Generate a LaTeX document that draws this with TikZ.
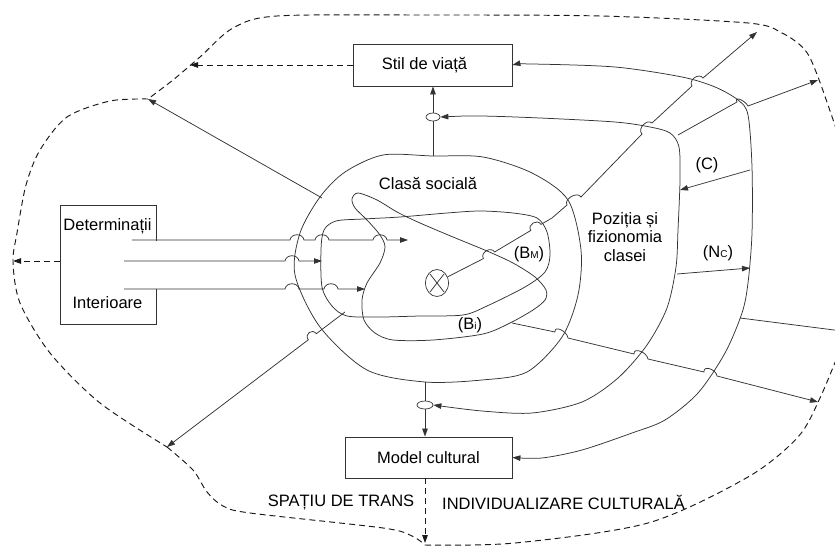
\documentclass[tikz,border=0pt]{standalone}
\usepackage{fontspec}
\setmainfont{Liberation Sans}
\usetikzlibrary{arrows.meta,shapes.geometric}
\begin{document}
\begin{tikzpicture}[x=1pt,y=-1pt,
  ln/.style={line width=0.75pt,draw=black!80},
  arr/.style={-{Triangle[length=8pt,width=5.5pt]}},
  barr/.style={{Triangle[length=8pt,width=5.5pt]}-{Triangle[length=8pt,width=5.5pt]}},
  dsh/.style={line width=0.95pt,draw=black!90,dash pattern=on 6pt off 4pt},
  box/.style={draw=black!80,line width=0.8pt,rectangle,inner sep=0pt},
  txt/.style={font=\fontsize{16.5}{18.5}\selectfont,inner sep=0pt},
  ell/.style={draw=black!80,line width=0.7pt,ellipse,inner sep=0pt,fill=white}]
\useasboundingbox (0,0) rectangle (835,548);

% ---------- outer dashed boundary ----------
\draw[dsh] plot[smooth] coordinates {(840,140) (818,77) (805,50) (782,33) (748,23) (600,16) (420,15) (277,16) (233,28) (200,57) (173,80) (148,99)};
\draw[dsh] plot[smooth] coordinates {(148,99) (110,101) (67,117) (40,150) (26,185) (17,233) (13,262) (20,303) (50,353) (100,403) (167,447)};
\draw[dsh] plot[smooth] coordinates {(167,447) (193,470) (207,492) (223,506) (250,513) (383,528) (412,536) (425,545)};
\draw[dsh] plot[smooth] coordinates {(425,545) (515,543) (648,523) (748,477) (798,437) (820,398) (842,345)};

% ---------- boxes ----------
\node[box,minimum width=159pt,minimum height=42pt] (stil) at (432.5,65) {};
\node[txt] (stilt) at (424.5,65) {Stil de viață};
\node[box,minimum width=167pt,minimum height=41pt] (model) at (428.5,457.5) {};
\node[txt] (modelt) at (428.5,457.5) {Model cultural};
\draw[ln,line width=0.8pt] (156,241) -- (156,205) -- (60,205) -- (60,324) -- (156,324) -- (156,289);
\node[txt] (det1) at (107.5,226) {Determinații};
\node[txt] (det2) at (107.5,303) {Interioare};
\coordinate (detw) at (60,261);

% ---------- small ellipses ----------
\node[ell,minimum width=14pt,minimum height=8pt] (e1) at (433,117) {};
\node[ell,minimum width=16pt,minimum height=8pt] (e2) at (425,405) {};
\node[ell,minimum width=23pt,minimum height=27pt,fill=none] (xc) at (437,283) {};
\draw[ln] (430,274) -- (444,292) (444,274) -- (430,292);

% ---------- dashed arrows to the boundary ----------
\coordinate (bl1) at (190,65);
\coordinate (bl2) at (13,261);
\coordinate (bl3) at (425,543);
\draw[dsh,arr] (stil.west) -- (bl1);
\draw[dsh,arr] (detw) -- (bl2);
\draw[dsh,arr] (model.south -| e2) -- (bl3);

% ---------- Clasa sociala (closed) ----------
\draw[ln] plot[smooth cycle] coordinates {(433,156) (483,157) (532,173) (568,200) (581,250) (578,295) (562,337) (527,372) (482,380) (425,382) (367,370) (320,327) (295,275) (300,233) (320,197) (345,172) (383,155)};
\coordinate (ctop) at (433,156);
\coordinate (cbot) at (425,382);

% ---------- inner shape (a) ----------
\draw[ln] plot[smooth cycle] coordinates {(321,250) (324,230) (336,221) (363,219) (400,217) (447,213) (480,211) (513,213) (537,218) (547,232) (550,255) (545,272) (525,287) (487,306) (463,315) (420,316) (380,317) (347,316) (332,306) (322,287)};

% ---------- inner loop (b) ----------
\draw[ln] plot[smooth cycle] coordinates {(358,193) (377,200) (397,212) (420,223) (453,237) (487,251) (513,263) (535,277) (546,290) (545,300) (533,310) (510,323) (483,334) (433,340) (393,340) (375,333) (364,320) (362,300) (367,283) (380,263) (385,247) (380,235) (367,220) (355,208) (352,199)};

% ---------- middle C ----------
\draw[ln,barr] plot[smooth] coordinates {(e1.east) (480,116) (540,118) (615,122) (650,127) (670,133) (679,147) (680,180) (678,230) (676,267) (667,308) (647,345) (618,378) (582,402) (532,413) (482,411) (e2.east)};

% ---------- outer C ----------
\draw[ln,barr] plot[smooth] coordinates {(stil.east) (532,64) (615,67) (682,77) (715,87) (738,100) (748,115) (752,167) (752,233) (748,283) (742,313) (725,353) (698,393) (665,420) (632,433) (582,450) (542,458) (model.east)};

% ---------- vertical connectors ----------
\draw[ln] (ctop) -- (e1.south);
\draw[ln,arr] (e1.north) -- (stil.south -| e1);
\draw[ln] (cbot) -- (e2.north);
\draw[ln,arr] (e2.south) -- (model.north -| e2);

% ---------- horizontal arrows from the box ----------
\coordinate (h1) at (132,240);
\coordinate (h2) at (124,261);
\coordinate (h3) at (124,289);
\draw[ln,arr] (h1) -- (290,240) .. controls (291,233) and (303,233) .. (304,240) -- (315,240) .. controls (316,233) and (328,233) .. (329,240) -- (373,240) .. controls (374,233) and (386,233) .. (387,240) -- (408,240);
\draw[ln,arr] (h2) -- (285,261) .. controls (286,254) and (298,254) .. (299,261) -- (322,261);
\draw[ln,arr] (h3) -- (285,289) .. controls (286,282) and (298,282) .. (299,289) -- (324,289) .. controls (325,282) and (337,282) .. (338,289) -- (365,289);

% ---------- arrows to the left boundary ----------
\coordinate (ul) at (322,198);
\coordinate (ulend) at (148,99);
\draw[ln,arr] (ul) -- (ulend);
\coordinate (dl) at (345,312);
\coordinate (dlend) at (167,447);
\draw[ln,arr] (dl) -- (316.3,333.7) .. controls +(-4.2,-5.6) and +(-4.2,-5.6) .. (308.3,339.8) -- (dlend);

% ---------- line from the X ----------
\coordinate (xend) at (757,32);
\draw[ln,arr] (xc.30) -- (483.4,258.6) .. controls +(-3.6,-6) and +(-3.6,-6) .. (494.6,252.0) -- (530.7,230.5) .. controls +(-3.6,-6) and +(-3.6,-6) .. (541,224.4) -- (552,218) -- (567,205) .. controls +(-3.5,-6) and +(-3.5,-6) .. (581,197) -- (642,134) .. controls +(-5.2,-4.7) and +(-5.2,-4.7) .. (652,123) -- (692,86) .. controls +(-4.1,-5.7) and +(-4.1,-5.7) .. (703,78) -- (xend);

% ---------- right side arrows ----------
\coordinate (tr0) at (678,135);
\coordinate (tr1) at (818,80);
\draw[ln,arr] (tr0) -- (737,102) .. controls +(-3.4,-6.1) and +(-3.4,-6.1) .. (748,106) -- (tr1);
\coordinate (c0) at (750,170);
\coordinate (c1) at (680,190);
\draw[ln,arr] (c0) -- (c1);
\coordinate (n0) at (677,274);
\coordinate (n1) at (750,268);
\draw[ln,arr] (n0) -- (n1);
\coordinate (r0) at (740,318);
\coordinate (r1) at (842,331);
\draw[ln] (r0) -- (r1);
\coordinate (bi0) at (512,323);
\coordinate (bi1) at (818,402);
\draw[ln,arr] (bi0) -- (555,332) .. controls +(-1,-7) and +(-1,-7) .. (568,338) -- (634,354) .. controls +(-1,-7) and +(-1,-7) .. (648,359) -- (704,372) .. controls +(-1,-7) and +(-1,-7) .. (717,376) -- (bi1);

% ---------- labels ----------
\node[txt] (cl) at (428,183) {Clasă socială};
\node[txt,align=center] (poz) at (625,237) {Poziția și\\fizionomia\\clasei};
\node[txt] (lc) at (707,165) {(C)};
\node[txt] (lnc) at (718,253) {(N{\fontsize{10}{12}\selectfont C})};
\node[txt] (lbm) at (529,254) {(B{\fontsize{10}{12}\selectfont M})};
\node[txt] (lbi) at (470,325) {(B{\fontsize{10}{12}\selectfont i})};
\node[txt] (sp1) at (341,502) {SPAȚIU DE TRANS};
\node[txt] (sp2) at (563.5,502) {INDIVIDUALIZARE CULTURALĂ};
\end{tikzpicture}
\end{document}
